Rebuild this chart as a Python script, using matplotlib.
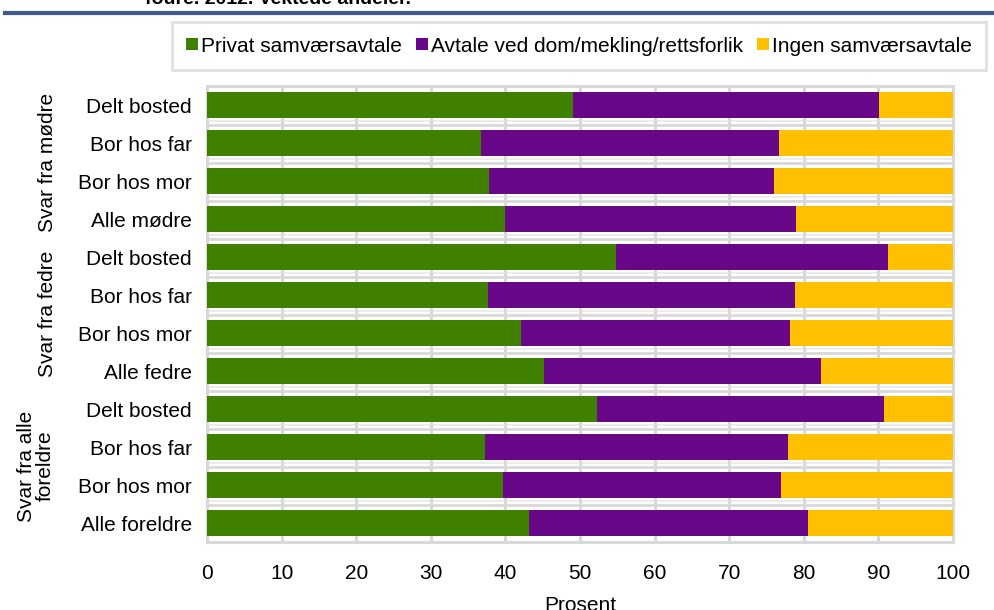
import matplotlib
matplotlib.use("Agg")
import matplotlib.pyplot as plt
import matplotlib.transforms as mtransforms
from matplotlib.patches import Patch
from matplotlib.lines import Line2D

plt.rcParams['font.family'] = ['Liberation Sans', 'DejaVu Sans']

categories = ["Delt bosted", "Bor hos far", "Bor hos mor", "Alle mødre",
              "Delt bosted", "Bor hos far", "Bor hos mor", "Alle fedre",
              "Delt bosted", "Bor hos far", "Bor hos mor", "Alle foreldre"]
privat = [49.1, 36.7, 37.8, 40.0, 54.8, 37.7, 42.1, 45.2, 52.3, 37.3, 39.7, 43.2]
avtale = [41.0, 40.0, 38.2, 39.0, 36.5, 41.1, 36.1, 37.1, 38.5, 40.6, 37.3, 37.4]
ingen = [9.9, 23.3, 24.0, 21.0, 8.7, 21.2, 21.8, 17.7, 9.2, 22.1, 23.0, 19.4]
series_names = ["Privat samværsavtale", "Avtale ved dom/mekling/rettsforlik", "Ingen samværsavtale"]
groups = ["Svar fra mødre", "Svar fra fedre", "Svar fra alle\nforeldre"]
group_rows = [(0, 3), (4, 7), (8, 11)]
xticks = [0, 10, 20, 30, 40, 50, 60, 70, 80, 90, 100]

colors = ["#3f8000", "#680889", "#ffc000"]
grid_c = "#d9d9d9"

W, H = 995, 610
fig = plt.figure(figsize=(W / 100, H / 100), dpi=100)
ax = fig.add_axes([207 / W, 1 - 542 / H, (953 - 207) / W, (542 - 86) / H])

y = list(range(len(categories)))
bh = 0.68
left = [0] * len(y)
for vals, c, name in zip([privat, avtale, ingen], colors, series_names):
    ax.barh(y, vals, left=left, height=bh, color=c, zorder=3, label=name)
    left = [l + v for l, v in zip(left, vals)]

ax.set_xlim(0, 100)
ax.set_ylim(len(y) - 0.5, -0.5)
ax.set_xticks(xticks)
ax.set_yticks(y)
ax.set_yticklabels(categories)
ax.tick_params(axis='both', length=0, labelsize=15)
ax.tick_params(axis='y', pad=11)
ax.tick_params(axis='x', pad=16)
ax.xaxis.grid(True, color=grid_c, linewidth=2.2, zorder=0)
for i in range(len(y) - 1):
    ax.axhline(i + 0.5 + 0.03, color=grid_c, linewidth=2.0, zorder=1)
    ax.axhline(i + 0.5 - 0.09, color="#ececec", linewidth=1.5, zorder=1)
for s in ax.spines.values():
    s.set_color(grid_c)
    s.set_linewidth(2.2)
ax.set_xlabel("Prosent", fontsize=15, labelpad=9)

trans = mtransforms.blended_transform_factory(fig.transFigure, ax.transData)
for g, (a, b), gx in zip(groups, group_rows, [48, 48, 36]):
    ax.text(gx / W, (a + b) / 2, g, transform=trans, rotation=90,
            ha='center', va='center', fontsize=15, linespacing=1.0)

# legend
handles = [Patch(facecolor=c, edgecolor='none') for c in colors]
leg = fig.legend(handles, series_names, loc='center', ncol=3,
                 bbox_to_anchor=((166 + 992) / 2 / W, 1 - 46 / H),
                 fontsize=15, frameon=True, fancybox=False,
                 handlelength=0.55, handleheight=0.55, handletextpad=0.15,
                 columnspacing=0.7, borderpad=0.7)
leg.get_frame().set_edgecolor(grid_c)
leg.get_frame().set_linewidth(2)

# top rule and clipped title
fig.add_artist(Line2D([5 / W, 1.0], [1 - 12.5 / H, 1 - 12.5 / H],
                      transform=fig.transFigure, color="#3f5a8a", linewidth=3))
fig.text(145 / W, 1 - 4 / H, "foure. 2012. Vektede andeler.", fontsize=14,
         fontweight='bold', ha='left', va='baseline')

fig.savefig("out.png", dpi=100)
